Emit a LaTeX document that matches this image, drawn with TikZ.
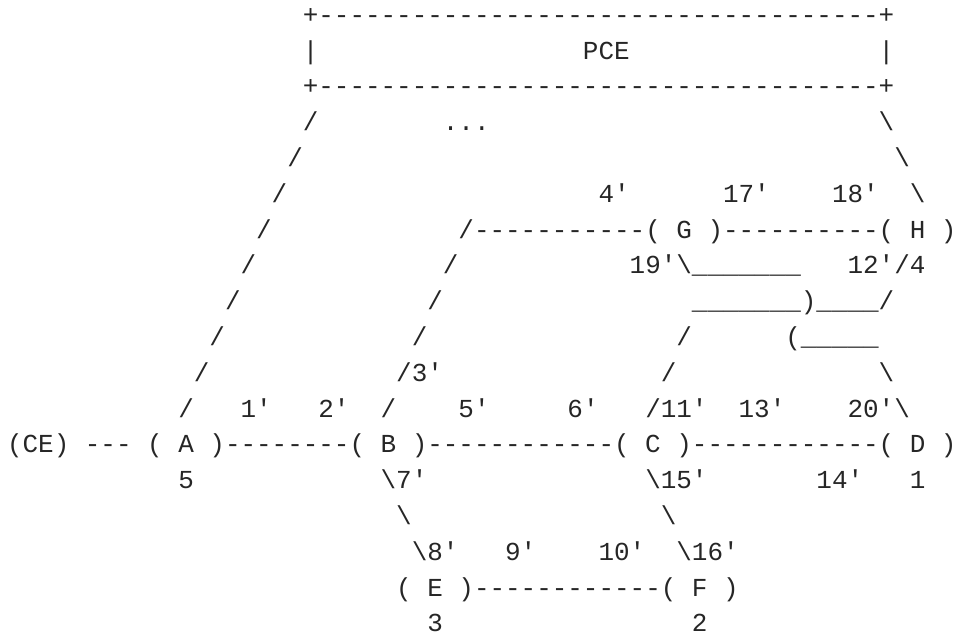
\documentclass[tikz,border=0pt]{standalone}
\usepackage{fontspec}
\setmonofont{Liberation Mono}
\usetikzlibrary{positioning}

\definecolor{ink}{HTML}{262626}
\newcommand\gap[1]{\hspace*{#1\dimexpr0.6em\relax}}
\newcommand\bsl{\textbackslash}

\begin{document}
\begin{tikzpicture}[
    x=11.68pt, y=-26.85pt,
    asciirow/.style={anchor=base west, inner sep=0pt, outer sep=0pt, text=ink, font=\ttfamily\fontsize{19.46pt}{20pt}\selectfont}
]
\useasboundingbox (-0.456,0.346) rectangle (60.88,18.056);

% PCE box
\node (row1) [asciirow] at (0,1) {\gap{19}+------------------------------------+};
\node (row2) [asciirow] at (0,2) {\gap{19}|\gap{17}PCE\gap{16}|};
\node (row3) [asciirow] at (0,3) {\gap{19}+------------------------------------+};

% links down from the PCE
\node (row4) [asciirow] at (0,4) {\gap{19}/\gap{8}...\gap{25}\bsl};
\node (row5) [asciirow] at (0,5) {\gap{18}/\gap{38}\bsl};
\node (row6) [asciirow] at (0,6) {\gap{17}/\gap{20}4'\gap{6}17'\gap{4}18'\gap{2}\bsl};

% G and H
\node (row7) [asciirow] at (0,7) {\gap{16}/\gap{12}/-----------(~G~)----------(~H~)};
\node (row8) [asciirow] at (0,8) {\gap{15}/\gap{12}/\gap{11}19'\bsl\_\_\_\_\_\_\_\gap{3}12'/4};
\node (row9) [asciirow] at (0,9) {\gap{14}/\gap{12}/\gap{16}\_\_\_\_\_\_\_)\_\_\_\_/};
\node (row10) [asciirow] at (0,10) {\gap{13}/\gap{12}/\gap{16}/\gap{6}(\_\_\_\_\_};
\node (row11) [asciirow] at (0,11) {\gap{12}/\gap{12}/3'\gap{14}/\gap{13}\bsl};
\node (row12) [asciirow] at (0,12) {\gap{11}/\gap{3}1'\gap{3}2'\gap{2}/\gap{4}5'\gap{5}6'\gap{3}/11'\gap{2}13'\gap{4}20'\bsl};

% CE, A, B, C and D
\node (row13) [asciirow] at (0,13) {(CE)~---~(~A~)--------(~B~)------------(~C~)------------(~D~)};
\node (row14) [asciirow] at (0,14) {\gap{11}5\gap{12}\bsl7'\gap{14}\bsl15'\gap{7}14'\gap{3}1};

% E and F
\node (row15) [asciirow] at (0,15) {\gap{25}\bsl\gap{16}\bsl};
\node (row16) [asciirow] at (0,16) {\gap{26}\bsl8'\gap{3}9'\gap{4}10'\gap{2}\bsl16'};
\node (row17) [asciirow] at (0,17) {\gap{25}(~E~)------------(~F~)};
\node (row18) [asciirow] at (0,18) {\gap{27}3\gap{16}2};

\end{tikzpicture}
\end{document}
